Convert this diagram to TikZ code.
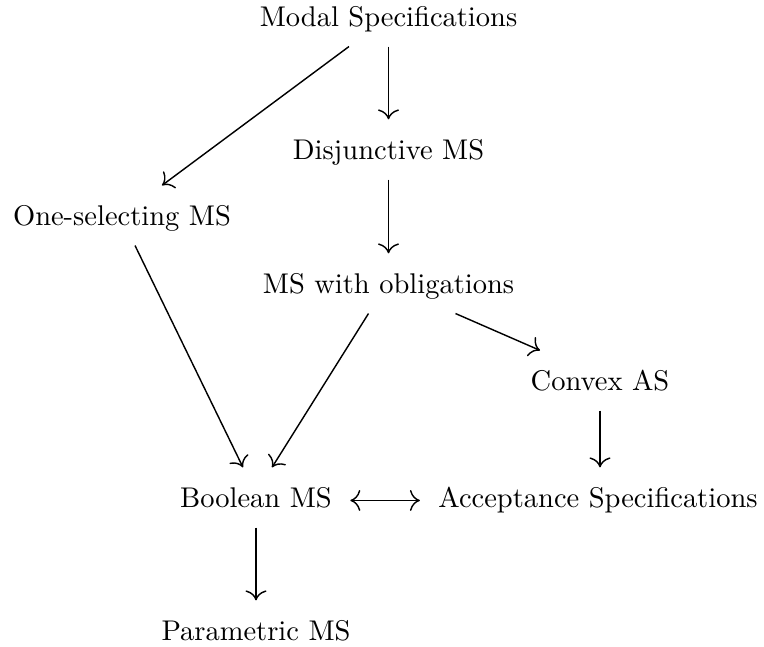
\documentclass[tikz,border=0pt]{standalone}
\usetikzlibrary{arrows.meta}
\begin{document}
\begin{tikzpicture}[x=0.3509pt, y=-0.3509pt,
  >={To[scale=1.3]},
  lbl/.style={anchor=base, inner xsep=6.3pt, inner ysep=0pt,
              text height=13.7pt, text depth=7pt},
  arr/.style={->, line width=0.5pt}]
\useasboundingbox (0,0) rectangle (764,646);

% specification formalisms
\node[lbl] (mod) at (388.5,26)  {Modal Specifications};
\node[lbl] (dis) at (388.5,159) {Disjunctive MS};
\node[lbl] (one) at (122,225)   {One-selecting MS};
\node[lbl] (obl) at (388.5,293) {MS with obligations};
\node[lbl] (cvx) at (600,390)   {Convex AS};
\node[lbl] (boo) at (256,507)   {Boolean MS};
\node[lbl] (acc) at (598,507)   {Acceptance Specifications};
\node[lbl] (par) at (256,640)   {Parametric MS};

% inclusions
\draw[arr] (mod.south) -- (dis.north);
\draw[arr] ([shift={(-39.5,0)}]mod.south) -- ([shift={(40,0)}]one.north);
\draw[arr] (dis.south) -- (obl.north);
\draw[arr] ([shift={(13,0)}]one.south) -- ([shift={(-13,0)}]boo.north);
\draw[arr] ([shift={(-20,0)}]obl.south) -- ([shift={(16,0)}]boo.north);
\draw[arr] ([shift={(67,0)}]obl.south) -- ([shift={(-60,0)}]cvx.north);
\draw[arr] (cvx.south) -- (cvx.south |- acc.north);
\draw[arr, <->] ([shift={(0,3)}]boo.east) -- ([shift={(0,3)}]acc.west);
\draw[arr] (boo.south) -- (par.north);
\end{tikzpicture}
\end{document}
